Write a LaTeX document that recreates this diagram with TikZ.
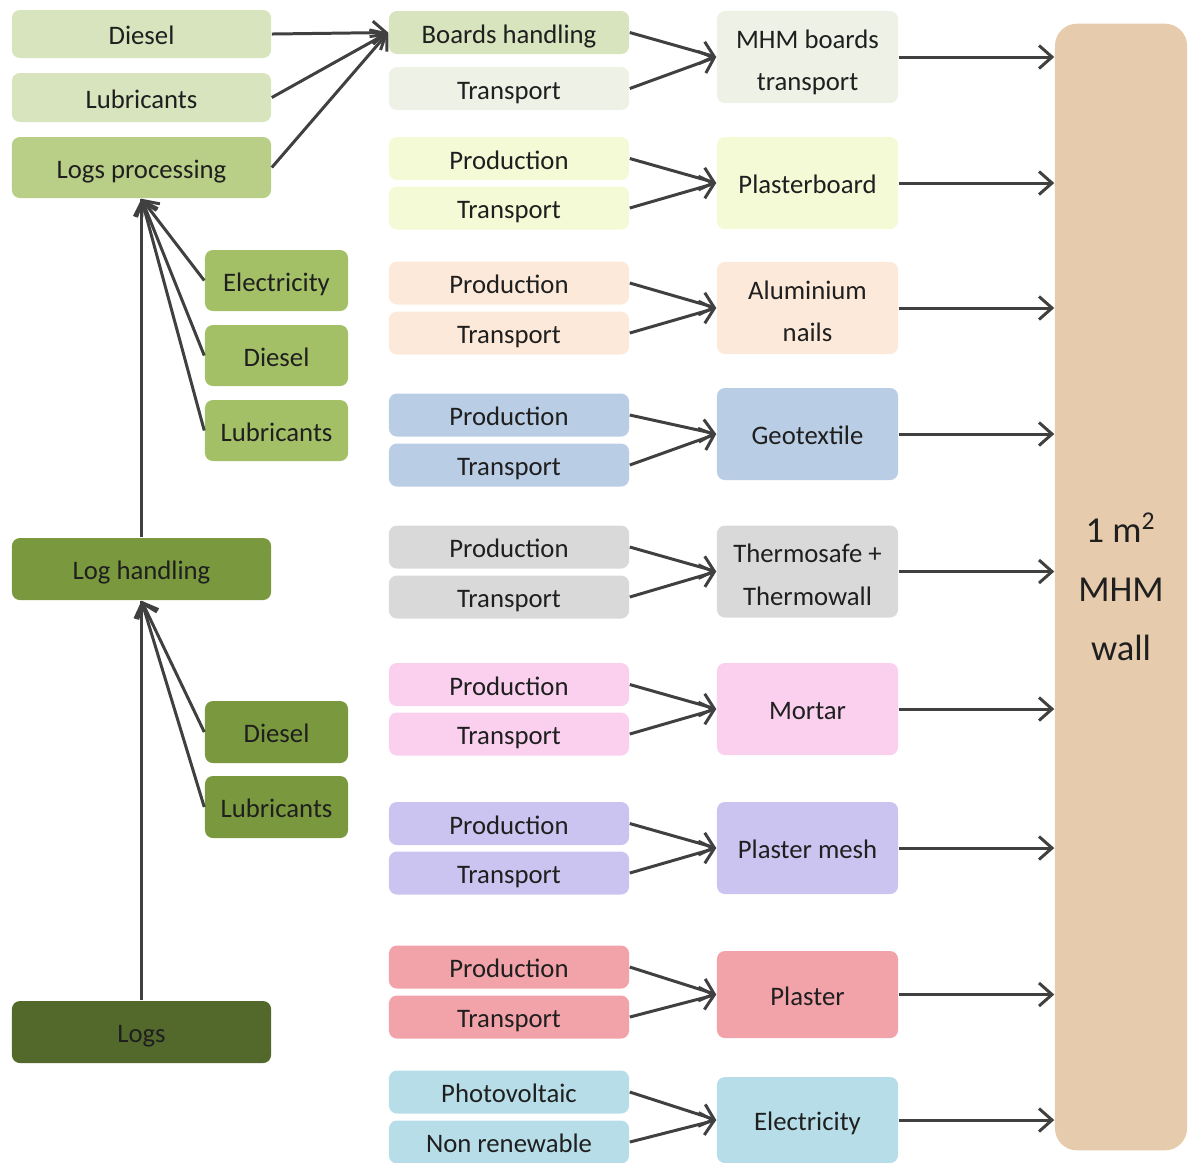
\documentclass[tikz,border=0pt]{standalone}
\usepackage{fontspec}
\setmainfont{Carlito}
\usepackage{tikz}
\usetikzlibrary{arrows.meta}

\definecolor{lgreen}{HTML}{D7E4BD}
\definecolor{pgreen}{HTML}{B9CF87}
\definecolor{mgreen}{HTML}{A4C067}
\definecolor{dgreen}{HTML}{7A983D}
\definecolor{vdgreen}{HTML}{53692B}
\definecolor{paleg}{HTML}{EDF1E6}
\definecolor{cream}{HTML}{F5FAD6}
\definecolor{peach}{HTML}{FDE9D9}
\definecolor{steel}{HTML}{B9CDE5}
\definecolor{grey}{HTML}{D9D9D9}
\definecolor{pink}{HTML}{FAD0EE}
\definecolor{lavender}{HTML}{CBC4F0}
\definecolor{salmon}{HTML}{F2A2A9}
\definecolor{aqua}{HTML}{B7DEE8}
\definecolor{tan}{HTML}{E6CBAD}
\definecolor{darkline}{HTML}{404040}

\begin{document}
\begin{tikzpicture}[x=0.01cm,y=-0.01cm,
    boxbase/.style={rounded corners=0.08cm,inner sep=0pt,align=center,text=black!88,
      font=\fontsize{7.6}{12.2}\selectfont},
    box/.style={boxbase,text height=6pt,text depth=-0.8pt},
    twoline/.style={text height=19.3pt,text depth=0pt},
    wide/.style={box,minimum width=2.59cm,minimum height=0.61cm},
    sidebox/.style={box,minimum width=1.43cm,minimum height=0.61cm},
    src/.style={box,minimum width=2.40cm,minimum height=0.43cm},
    mat/.style={box,minimum width=1.81cm,minimum height=0.92cm},
    tie/.style={draw=darkline,line width=0.85pt},
    link/.style={tie,-{Straight Barb[length=1.3mm,width=2.3mm]}}]
                    \useasboundingbox (0,0) rectangle (1189,1162);
                    % left: wood chain
                    \node[wide,fill=lgreen,minimum height=0.48cm] (diesA) at (141.5,34) {Diesel};
                    \node[wide,fill=lgreen,minimum height=0.49cm] (lubA) at (141.5,97.5) {Lubricants};
                    \node[wide,fill=pgreen] (logproc) at (141.5,167.5) {Logs processing};
                    \node[sidebox,fill=mgreen] (elecB) at (276.5,280.5) {Electricity};
                    \node[sidebox,fill=mgreen] (diesB) at (276.5,355.5) {Diesel};
                    \node[sidebox,fill=mgreen] (lubB) at (276.5,430.5) {Lubricants};
                    \node[wide,fill=dgreen,minimum height=0.62cm] (loghand) at (141.5,569) {Log handling};
                    \node[sidebox,fill=dgreen,minimum height=0.62cm] (diesC) at (276.5,732) {Diesel};
                    \node[sidebox,fill=dgreen,minimum height=0.62cm] (lubC) at (276.5,807) {Lubricants};
                    \node[wide,fill=vdgreen,minimum height=0.62cm] (logs) at (141.5,1032) {Logs};

                    % middle: inputs
                    \node[src,fill=lgreen] (bhand) at (509,32.5) {Boards handling};
                    \node[src,fill=paleg] (btrans) at (509,88.5) {Transport};
                    \node[src,fill=cream] (pbprod) at (509,158.5) {Production};
                    \node[src,fill=cream] (pbtrans) at (509,208) {Transport};
                    \node[src,fill=peach] (alprod) at (509,283) {Production};
                    \node[src,fill=peach] (altrans) at (509,333) {Transport};
                    \node[src,fill=steel] (geoprod) at (509,415) {Production};
                    \node[src,fill=steel] (geotrans) at (509,465) {Transport};
                    \node[src,fill=grey] (thprod) at (509,547) {Production};
                    \node[src,fill=grey] (thtrans) at (509,597) {Transport};
                    \node[src,fill=pink] (moprod) at (509,684.5) {Production};
                    \node[src,fill=pink] (motrans) at (509,734) {Transport};
                    \node[src,fill=lavender] (meprod) at (509,823.5) {Production};
                    \node[src,fill=lavender] (metrans) at (509,873) {Transport};
                    \node[src,fill=salmon] (plprod) at (509,967) {Production};
                    \node[src,fill=salmon] (pltrans) at (509,1017) {Transport};
                    \node[src,fill=aqua] (pv) at (509,1092) {Photovoltaic};
                    \node[src,fill=aqua] (nonren) at (509,1142) {Non renewable};

                    % right: materials
                    \node[mat,twoline,fill=paleg] (mhm) at (807.5,57) {MHM boards\\transport};
                    \node[mat,fill=cream] (pboard) at (807.5,183) {Plasterboard};
                    \node[mat,twoline,fill=peach] (nails) at (807.5,308) {Aluminium\\nails};
                    \node[mat,fill=steel] (geo) at (807.5,434) {Geotextile};
                    \node[mat,twoline,fill=grey] (thermo) at (807.5,571.5) {Thermosafe +\\Thermowall};
                    \node[mat,fill=pink] (mortar) at (807.5,709) {Mortar};
                    \node[mat,fill=lavender] (mesh) at (807.5,848) {Plaster mesh};
                    \node[mat,fill=salmon,minimum height=0.87cm] (plaster) at (807.5,994.5) {Plaster};
                    \node[mat,fill=aqua,minimum height=0.86cm] (elec) at (807.5,1120) {Electricity};

                    \node[boxbase,fill=tan,rounded corners=0.22cm,minimum width=1.32cm,minimum height=11.26cm,
                      font=\fontsize{10.4}{16.8}\selectfont] (wall) at (1121,587) {1 m\textsuperscript{2}\\MHM\\wall};

                    % wood chain arrows
                    \draw[link] (diesA.east) -- (bhand.west);
                    \draw[link] (lubA.east) -- (bhand.west);
                    \draw[link] (logproc.east) -- (bhand.west);
                    \draw[link] (elecB.west) -- (logproc.south);
                    \draw[link] (diesB.west) -- (logproc.south);
                    \draw[link] (lubB.west) -- (logproc.south);
                    \draw[tie] (loghand.north) -- (logproc.south);
                    \draw[link] (diesC.west) -- (loghand.south);
                    \draw[link] (lubC.west) -- (loghand.south);
                    \draw[tie] (logs.north) -- (loghand.south);

                    % inputs to materials
                    \draw[link] (bhand.east) -- (mhm.west);
                    \draw[link] (btrans.east) -- (mhm.west);
                    \draw[link] (pbprod.east) -- (pboard.west);
                    \draw[link] (pbtrans.east) -- (pboard.west);
                    \draw[link] (alprod.east) -- (nails.west);
                    \draw[link] (altrans.east) -- (nails.west);
                    \draw[link] (geoprod.east) -- (geo.west);
                    \draw[link] (geotrans.east) -- (geo.west);
                    \draw[link] (thprod.east) -- (thermo.west);
                    \draw[link] (thtrans.east) -- (thermo.west);
                    \draw[link] (moprod.east) -- (mortar.west);
                    \draw[link] (motrans.east) -- (mortar.west);
                    \draw[link] (meprod.east) -- (mesh.west);
                    \draw[link] (metrans.east) -- (mesh.west);
                    \draw[link] (plprod.east) -- (plaster.west);
                    \draw[link] (pltrans.east) -- (plaster.west);
                    \draw[link] (pv.east) -- (elec.west);
                    \draw[link] (nonren.east) -- (elec.west);

                    % materials to wall
                    \draw[link] (mhm.east) -- (mhm.east -| wall.west);
                    \draw[link] (pboard.east) -- (pboard.east -| wall.west);
                    \draw[link] (nails.east) -- (nails.east -| wall.west);
                    \draw[link] (geo.east) -- (geo.east -| wall.west);
                    \draw[link] (thermo.east) -- (thermo.east -| wall.west);
                    \draw[link] (mortar.east) -- (mortar.east -| wall.west);
                    \draw[link] (mesh.east) -- (mesh.east -| wall.west);
                    \draw[link] (plaster.east) -- (plaster.east -| wall.west);
                    \draw[link] (elec.east) -- (elec.east -| wall.west);
                \end{tikzpicture}
\end{document}
